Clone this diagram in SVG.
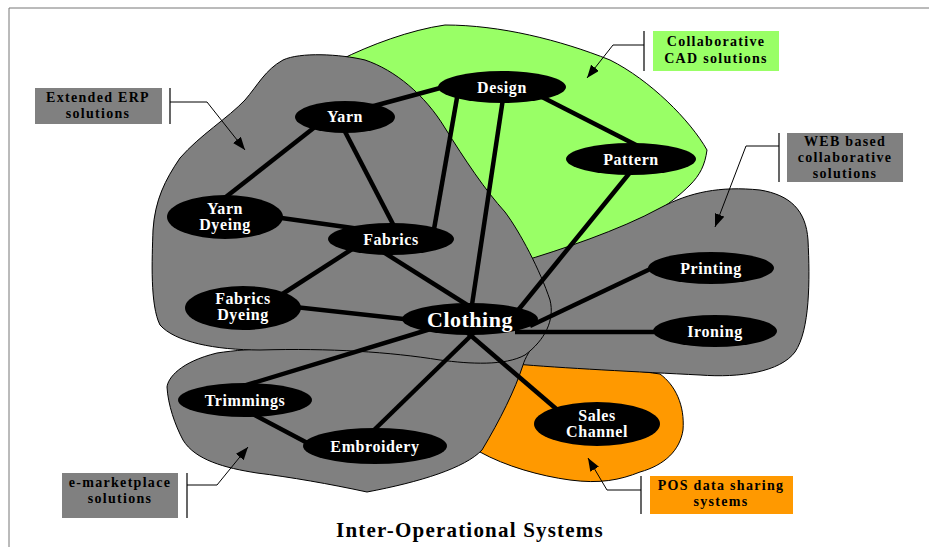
<svg xmlns="http://www.w3.org/2000/svg" width="929" height="547" viewBox="0 0 929 547">
  <style>
    .blob { stroke: #000; stroke-width: 1; }
    .grey { fill: #808080; }
    .edge { stroke: #000; stroke-width: 4.5; stroke-linecap: butt; fill: none; }
    .node { fill: #000; }
    .nt { font-family: "Liberation Serif", "Times New Roman", serif; font-weight: bold; font-size: 16px; fill: #fff; text-anchor: middle; letter-spacing: 0.6px; }
    .big { font-size: 22px; letter-spacing: 0.5px; }
    .lab { font-family: "Liberation Serif", "Times New Roman", serif; font-weight: bold; font-size: 14px; fill: #000; text-anchor: middle; letter-spacing: 1.3px; }
    .ptr { stroke: #000; stroke-width: 1; fill: none; marker-end: url(#tip); }
    .bar { stroke: #000; stroke-width: 1.2; }
  </style>
  <defs>
    <marker id="tip" markerUnits="userSpaceOnUse" markerWidth="13" markerHeight="10" refX="13" refY="5" orient="auto">
      <path d="M0,0 L13,5 L0,10 Z" fill="#000"/>
    </marker>
  </defs>

  <rect width="929" height="547" fill="#fff"/>
  <!-- page frame -->
  <path d="M9,547 V8 H929" fill="none" stroke="#777" stroke-width="1"/>

  <!-- system regions -->
  <g id="regions">
    <path id="cad-region" class="blob" fill="#99ff66" d="M340,60 C370,45 410,30 445,25 C500,25 560,40 610,60 C650,80 690,120 707,150 C705,165 700,175 690,185 C670,205 640,225 600,240 C570,252 545,260 520,262 C490,200 420,120 340,60 Z"/>
    <path id="pos-region" class="blob" fill="#ff9900" d="M505,362 C560,364 620,368 660,374 C675,385 685,405 683,430 C680,450 665,465 640,472 C620,480 600,484 570,480 C540,476 505,466 480,452 C488,420 498,390 505,362 Z"/>
    <path id="web-region" class="blob grey" d="M520,262 C560,250 620,230 660,208 C690,192 720,186 760,190 C790,195 806,210 808,240 C810,280 810,330 795,352 C780,372 740,378 700,375 C640,372 560,368 515,364 C495,340 495,290 520,262 Z"/>
    <path id="emarket-region" class="blob grey" d="M217,353 C250,348 300,346 360,350 C430,355 490,352 545,318 L540,335 C530,350 525,358 523,365 C515,390 500,420 482,450 C465,468 420,482 367,492 C330,484 290,477 257,473 C225,468 195,460 183,440 C175,425 168,405 167,387 C168,378 180,362 217,353 Z"/>
    <path id="erp-region" class="blob grey" d="M283,60 C300,52 340,54 365,60 C395,70 425,95 445,128 C465,160 485,190 505,212 C520,232 540,270 550,300 C555,320 545,340 525,355 C505,366 470,364 440,360 C390,352 330,348 260,350 C215,350 175,342 160,325 C150,305 152,260 153,230 C155,200 165,180 180,158 C200,135 228,118 245,100 C258,85 265,70 283,60 Z"/>
  </g>

  <!-- links between the process steps -->
  <g id="connectors">
    <line class="edge" x1="370" y1="107" x2="455" y2="84"/>
    <line class="edge" x1="320" y1="123" x2="222" y2="200"/>
    <line class="edge" x1="340" y1="122" x2="395" y2="228"/>
    <line class="edge" x1="458" y1="92" x2="433" y2="235"/>
    <line class="edge" x1="504" y1="92" x2="470" y2="318"/>
    <line class="edge" x1="540" y1="96" x2="640" y2="147"/>
    <line class="edge" x1="632" y1="170" x2="515" y2="314"/>
    <line class="edge" x1="260" y1="215" x2="360" y2="229"/>
    <line class="edge" x1="360" y1="244" x2="270" y2="302"/>
    <line class="edge" x1="380" y1="250" x2="480" y2="313"/>
    <line class="edge" x1="250" y1="302" x2="440" y2="323"/>
    <line class="edge" x1="470" y1="317" x2="240" y2="387"/>
    <line class="edge" x1="485" y1="322" x2="372" y2="432"/>
    <line class="edge" x1="455" y1="322" x2="575" y2="425"/>
    <line class="edge" x1="530" y1="326" x2="665" y2="262"/>
    <line class="edge" x1="515" y1="332" x2="660" y2="332"/>
    <line class="edge" x1="245" y1="410" x2="315" y2="447"/>
  </g>

  <g id="design"><ellipse class="node" cx="502" cy="87" rx="64" ry="16"/><text class="nt" x="502" y="93">Design</text></g>
  <g id="yarn"><ellipse class="node" cx="345" cy="117" rx="50" ry="16"/><text class="nt" x="345" y="122">Yarn</text></g>
  <g id="pattern"><ellipse class="node" cx="631" cy="159" rx="65" ry="16"/><text class="nt" x="631" y="165">Pattern</text></g>
  <g id="yarn-dyeing"><ellipse class="node" cx="225" cy="217" rx="58" ry="22"/><text class="nt" x="225" y="214">Yarn</text><text class="nt" x="225" y="230">Dyeing</text></g>
  <g id="fabrics"><ellipse class="node" cx="391" cy="239" rx="63" ry="16"/><text class="nt" x="391" y="245">Fabrics</text></g>
  <g id="fabrics-dyeing"><ellipse class="node" cx="243" cy="308" rx="58" ry="22"/><text class="nt" x="243" y="304">Fabrics</text><text class="nt" x="243" y="320">Dyeing</text></g>
  <g id="clothing"><ellipse class="node" cx="470" cy="319" rx="68" ry="16"/><text class="nt big" x="470" y="327">Clothing</text></g>
  <g id="printing"><ellipse class="node" cx="711" cy="268" rx="63" ry="16"/><text class="nt" x="711" y="274">Printing</text></g>
  <g id="ironing"><ellipse class="node" cx="715" cy="331" rx="62" ry="16"/><text class="nt" x="715" y="337">Ironing</text></g>
  <g id="trimmings"><ellipse class="node" cx="245" cy="400" rx="67" ry="17"/><text class="nt" x="245" y="406">Trimmings</text></g>
  <g id="embroidery"><ellipse class="node" cx="375" cy="446" rx="72" ry="18"/><text class="nt" x="375" y="452">Embroidery</text></g>
  <g id="sales-channel"><ellipse class="node" cx="597" cy="424" rx="63" ry="22"/><text class="nt" x="597" y="421">Sales</text><text class="nt" x="597" y="437">Channel</text></g>

  <!-- region captions with pointers -->
  <g id="erp-label">
    <rect x="35" y="88" width="127" height="36" fill="#808080"/>
    <text class="lab" x="98" y="102">Extended ERP</text>
    <text class="lab" x="98" y="118">solutions</text>
    <line class="bar" x1="170" y1="88" x2="170" y2="124"/>
    <polyline class="ptr" points="170,102 207,102 245,150"/>
  </g>
  <g id="cad-label">
    <rect x="653" y="31" width="126" height="40" fill="#99ff66"/>
    <text class="lab" x="716" y="46">Collaborative</text>
    <text class="lab" x="716" y="63">CAD solutions</text>
    <line class="bar" x1="644" y1="31" x2="644" y2="71"/>
    <polyline class="ptr" points="644,45 613,45 587,78"/>
  </g>
  <g id="web-label">
    <rect x="787" y="133" width="116" height="49" fill="#808080"/>
    <text class="lab" x="845" y="146">WEB based</text>
    <text class="lab" x="845" y="162">collaborative</text>
    <text class="lab" x="845" y="178">solutions</text>
    <line class="bar" x1="779" y1="133" x2="779" y2="182"/>
    <polyline class="ptr" points="779,146 746,146 715,227"/>
  </g>
  <g id="emarket-label">
    <rect x="62" y="473" width="116" height="45" fill="#808080"/>
    <text class="lab" x="120" y="487">e-marketplace</text>
    <text class="lab" x="120" y="503">solutions</text>
    <line class="bar" x1="187" y1="473" x2="187" y2="518"/>
    <polyline class="ptr" points="187,485 217,485 248,447"/>
  </g>
  <g id="pos-label">
    <rect x="650" y="476" width="143" height="38" fill="#ff9900"/>
    <text class="lab" x="721" y="490">POS data sharing</text>
    <text class="lab" x="721" y="506">systems</text>
    <line class="bar" x1="641" y1="476" x2="641" y2="514"/>
    <polyline class="ptr" points="641,490 607,490 588,458"/>
  </g>

  <text x="470" y="537" font-family="Liberation Serif, Times New Roman, serif" font-weight="bold" font-size="21" text-anchor="middle" letter-spacing="1.2">Inter-Operational Systems</text>
</svg>
